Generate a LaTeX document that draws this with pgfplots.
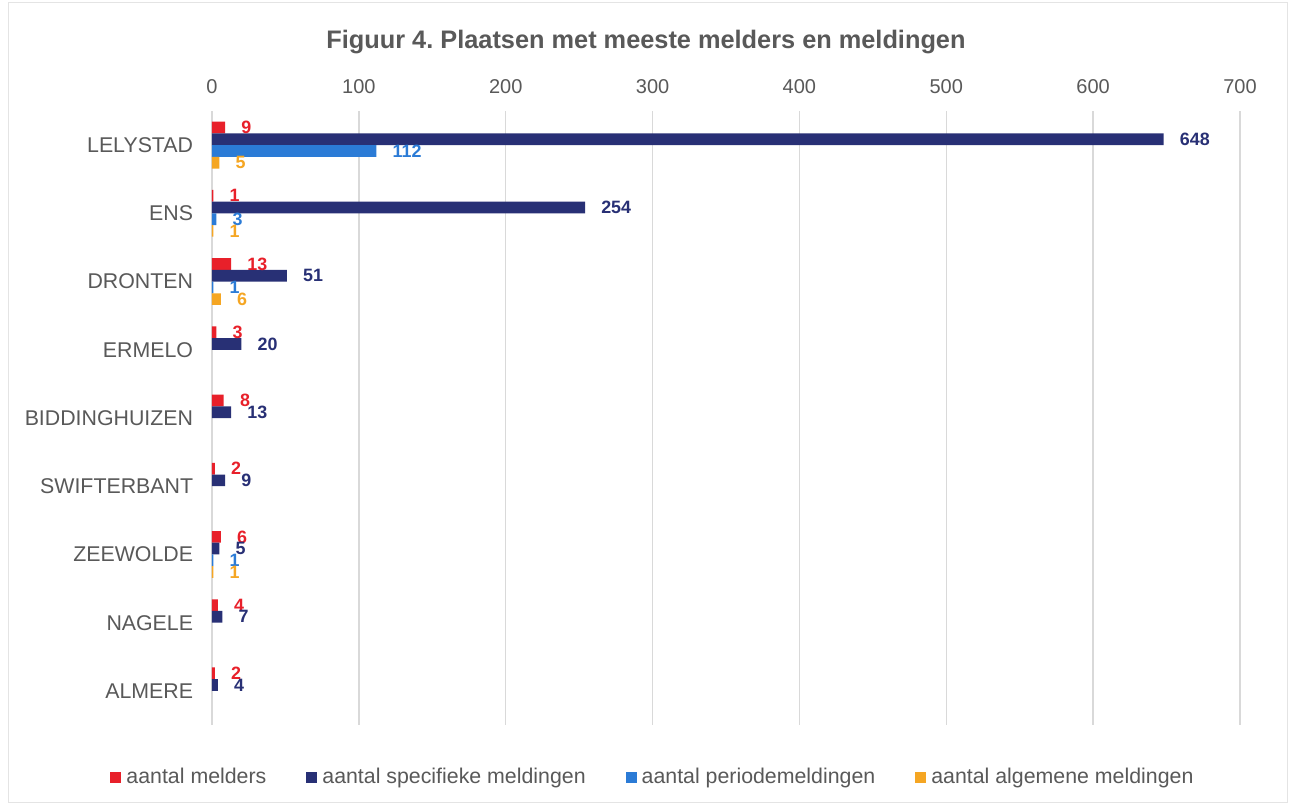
\documentclass[border=0pt]{standalone}
\usepackage{fontspec}
\setmainfont{Liberation Sans}
\usepackage{pgfplots}
\pgfplotsset{compat=1.18}
\definecolor{cred}{HTML}{E8202A}
\definecolor{cnavy}{HTML}{283075}
\definecolor{cblue}{HTML}{2B7BD6}
\definecolor{corange}{HTML}{F5A623}
\definecolor{ctext}{HTML}{595959}
\definecolor{cgrid}{HTML}{D9D9D9}
\frenchspacing
\begin{document}
\begin{tikzpicture}
\useasboundingbox (0,0) rectangle (969pt,603.75pt);
\fill[white] (0,0) rectangle (969pt,603.75pt);
\draw[cgrid!70, line width=0.75pt] (6pt,1.5pt) rectangle (965.25pt,601.5pt);
\node[anchor=base, font=\fontsize{19}{23}\selectfont\bfseries, text=ctext, inner sep=0pt] at (484.5pt,567pt) {Figuur 4. Plaatsen met meeste melders en meldingen};
\begin{axis}[
 at={(159pt,60pt)}, anchor=south west,
 scale only axis, width=771pt, height=460.5pt,
 xbar=0pt, bar width=8.775pt,
 xmin=0, xmax=700, ymin=-0.5, ymax=8.5, y dir=reverse,
 xtick={0,100,...,700}, ytick={0,...,8},
 yticklabels={LELYSTAD,ENS,DRONTEN,ERMELO,BIDDINGHUIZEN,SWIFTERBANT,ZEEWOLDE,NAGELE,ALMERE},
 xticklabel pos=upper,
 axis line style={draw=none},
 major tick length=0pt,
 xmajorgrids, grid style={cgrid, line width=1pt},
 /pgf/number format/assume math mode=true,
 xticklabel style={font=\fontsize{15}{18}\selectfont, text=ctext, inner sep=0pt, anchor=south, yshift=13pt},
 yticklabel style={font=\fontsize{16}{19}\selectfont, text=ctext, inner sep=0pt, anchor=east, xshift=-14pt},
 nodes near coords,
 nodes near coords style={font=\fontsize{13.4}{16}\selectfont\bfseries, anchor=west, inner sep=0pt, xshift=12pt},
 clip=false,
 legend columns=4,
 legend style={at={(0.428,-0.0850)}, anchor=center, draw=none, fill=none,
   font=\fontsize{16}{19}\selectfont, text=ctext, nodes={inner sep=0pt},
   /tikz/every odd column/.append style={column sep=3.75pt},
   /tikz/every even column/.append style={column sep=30pt}},
 legend image code/.code={\fill[#1, draw=none] (0pt,-4.125pt) rectangle (8.25pt,4.125pt);},
]
\addplot[fill=cred, draw=none, bar shift=13.1625pt, every node near coord/.append style={text=cred}] coordinates {(9,0) (1,1) (13,2) (3,3) (8,4) (2,5) (6,6) (4,7) (2,8)};
\addlegendentry{aantal melders}
\addplot[fill=cnavy, draw=none, bar shift=4.3875pt, every node near coord/.append style={text=cnavy}] coordinates {(648,0) (254,1) (51,2) (20,3) (13,4) (9,5) (5,6) (7,7) (4,8)};
\addlegendentry{aantal specifieke meldingen}
\addplot[fill=cblue, draw=none, bar shift=-4.3875pt, every node near coord/.append style={text=cblue}] coordinates {(112,0) (3,1) (1,2) (1,6)};
\addlegendentry{aantal periodemeldingen}
\addplot[fill=corange, draw=none, bar shift=-13.1625pt, every node near coord/.append style={text=corange}] coordinates {(5,0) (1,1) (6,2) (1,6)};
\addlegendentry{aantal algemene meldingen}
\end{axis}
\end{tikzpicture}
\end{document}
